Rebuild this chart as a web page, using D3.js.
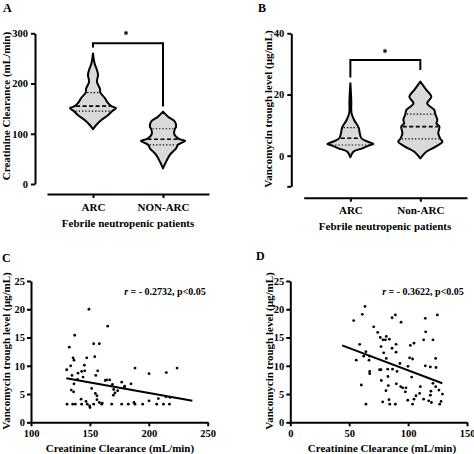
<!DOCTYPE html>
<html><head><meta charset="utf-8">
<script src="https://cdn.jsdelivr.net/npm/d3@7"></script>
<style>
html,body{margin:0;padding:0;background:#fff;}
svg text{font-family:"Liberation Serif","Times New Roman",serif;font-weight:bold;fill:#000;}
</style></head>
<body>
<svg id="chart" width="474" height="454"></svg>
<script>
// ---------- DATA ----------
const groupsA = ["ARC", "NON-ARC"];
const groupsB = ["ARC", "Non-ARC"];
const ticksA = [0, 100, 200, 300];
const ticksB = [-10, 0, 20, 40];
const ticksCx = [100, 150, 200, 250];
const ticksDx = [0, 50, 100, 150];
const ticksScatterY = [0, 5, 10, 15, 20, 25];

// Violin profiles (level, relative density)
const vA_arc_levels = [109,117,127,137,145,151,155,163,171,182,190,204,217,227,240,260];
const vA_arc_dens   = [0,0.13,0.35,0.65,0.83,1.0,0.8,0.62,0.52,0.32,0.3,0.17,0.22,0.17,0.07,0];
const vA_arc_quart  = [145,155,182];
const vA_non_levels = [31,44,58,71,78,86,89,94,101,110,114,124,134,144];
const vA_non_dens   = [0,0.13,0.3,0.57,0.65,0.96,0.74,0.57,0.48,0.52,0.57,0.52,0.22,0];
const vA_non_quart  = [78,89,110];

const vB_arc_levels = [-0.5,1.3,2.4,3.5,3.8,4.9,5.7,7.3,9.2,11.6,13.9,18,23.7];
const vB_arc_dens   = [0,0.13,0.52,0.87,1.0,0.65,0.48,0.41,0.36,0.17,0.05,0.04,0];
const vB_arc_quart  = [3.5,5.7,9.2];
const vB_non_levels = [-0.9,1.3,2.9,4.6,5.5,7.3,9.5,10.6,11.7,13.6,14.9,17.1,19.3,21.5,24.2];
const vB_non_dens   = [0,0.26,0.65,0.96,0.87,0.78,0.83,0.7,0.74,0.65,0.61,0.3,0.48,0.26,0];
const vB_non_quart  = [5.5,9.5,13.6];

// Scatter C: creatinine clearance (x) vs vancomycin trough (y)
const cX = [149.2,165.1,137.1,132.5,153.2,158.0,135.7,136.5,147.3,154.1,130.3,133.7,145.3,139.9,143.0,145.6,156.6,144.2,155.0,134.8,136.5,164.2,166.8,163.0,169.1,177.0,184.9,179.5,179.2,170.2,173.6,171.3,169.9,134.2,136.2,154.6,156.0,151.5,156.0,158.0,142.5,146.7,149.8,150.1,130.6,135.4,137.6,143.0,147.8,153.2,160.0,168.5,177.0,182.6,188.3,194.8,206.7,212.4,217.5,188.3,200.2,214.9,224.0,200.2,208.1,214.6,218.0,187.4,139.5,160.5];
const cY = [20.0,17.0,15.4,13.3,13.9,13.9,11.4,11.0,11.4,11.6,9.3,10.0,10.1,8.7,9.0,9.1,9.1,8.0,8.3,8.3,6.8,7.5,7.5,7.4,6.7,7.1,6.8,6.4,6.1,5.8,5.6,5.2,4.8,5.7,5.4,5.1,4.7,6.0,4.0,3.5,4.1,3.7,2.9,2.6,3.2,3.2,3.2,3.2,3.2,3.2,3.2,3.2,3.2,3.2,3.2,3.2,3.2,3.2,3.2,9.6,8.6,8.8,9.6,3.8,4.2,4.5,4.4,3.5,7.6,3.4];
const cFit = [[130, 7.8], [237, 3.8]];
const cText = "r = - 0.2732, p<0.05";

// Scatter D
const dX = [63.4,61.1,53.8,94.0,89.2,86.4,114.6,124.8,70.8,74.2,114.9,76.4,81.5,80.7,78.7,84.1,113.2,58.9,77.0,86.4,89.8,101.9,105.0,121.1,64.2,79.3,89.8,62.3,67.4,56.0,66.8,81.5,101.3,103.8,93.1,123.4,99.9,114.6,118.9,123.7,77.0,82.7,86.8,75.8,90.6,67.4,67.4,82.9,103.0,77.3,60.3,83.2,90.0,93.7,95.4,98.2,110.4,121.1,123.4,126.2,97.7,81.2,109.8,119.4,118.9,129.2,106.7,83.8,99.7,105.0,113.2,117.5,119.8,128.0,64.2,78.4,84.4,89.2,103.8,126.8];
const dY = [20.5,19.1,18.0,17.7,19.0,18.5,18.4,19.0,16.9,15.9,16.0,15.0,15.2,14.6,14.6,14.7,14.6,13.8,13.4,13.1,13.8,13.6,14.0,14.6,12.5,12.3,12.4,11.7,11.7,11.0,11.0,11.3,11.4,11.2,10.4,11.3,9.9,10.0,9.8,9.7,9.3,9.4,9.4,9.3,9.0,9.0,8.6,8.1,8.0,7.4,6.6,6.5,6.8,6.3,6.1,6.1,6.3,6.9,6.3,5.7,5.4,5.6,5.1,5.5,4.8,5.0,4.7,4.0,3.9,4.1,4.1,3.8,3.5,3.7,3.2,3.6,3.2,3.2,3.2,3.2];
const dFit = [[44, 13.6], [129, 6.9]];
const dText = "r = - 0.3622, p<0.05";

// ---------- DRAWING ----------
const svg = d3.select("#chart");
const AX = 2;      // axis stroke width
const TICK = 4;

function styleAxis(g, fs) {
  g.selectAll(".domain").attr("stroke", "#000").attr("stroke-width", AX);
  g.selectAll(".tick line").attr("stroke", "#000").attr("stroke-width", AX);
  g.selectAll(".tick text").style("font-size", fs + "px").style("font-family", '"Liberation Serif","Times New Roman",serif').style("font-weight", "bold").attr("fill", "#000");
}

function violin(g, levels, dens, quart, cx, y, wScale) {
  const pts = levels.map((v, i) => ({v, d: dens[i]}));
  const area = d3.area()
    .y(p => y(p.v))
    .x0(p => cx - wScale(p.d))
    .x1(p => cx + wScale(p.d))
    .curve(d3.curveCatmullRom.alpha(0.5));
  g.append("path").datum(pts).attr("d", area)
    .attr("fill", "#d9d9d9").attr("stroke", "#000").attr("stroke-width", 2).attr("stroke-linejoin", "round");
  const interp = v => {
    for (let i = 0; i < levels.length - 1; i++) {
      if (v >= levels[i] && v <= levels[i+1]) {
        const t = (v - levels[i]) / (levels[i+1] - levels[i]);
        return dens[i] + t * (dens[i+1] - dens[i]);
      }
    }
    return 0;
  };
  quart.forEach((q, i) => {
    const w = wScale(interp(q)) - 1.5;
    g.append("line").attr("x1", cx - w).attr("x2", cx + w).attr("y1", y(q)).attr("y2", y(q))
      .attr("stroke", "#000")
      .attr("stroke-width", i === 1 ? 1.6 : 1.2)
      .attr("stroke-dasharray", i === 1 ? "4,2.5" : "1.3,2");
  });
}

function bracket(g, x1, x2, yTop, yL, yR, starX, starY) {
  g.append("path").attr("d", `M${x1},${yL}V${yTop}H${x2}V${yR}`)
    .attr("fill", "none").attr("stroke", "#000").attr("stroke-width", 2);
  g.append("path").attr("d", d3.symbol(d3.symbolAsterisk, 14)())
    .attr("transform", `translate(${starX},${starY})`)
    .attr("fill", "none").attr("stroke", "#000").attr("stroke-width", 1);
}

function label(txt, x, y, fs, anchor, rot) {
  const t = svg.append("text").attr("text-anchor", anchor || "start").style("font-size", fs + "px").text(txt);
  if (rot) t.attr("transform", `translate(${x},${y}) rotate(-90)`);
  else t.attr("x", x).attr("y", y);
  return t;
}

// ---- Panel A ----
{
  const g = svg.append("g");
  const y = d3.scaleLinear().domain([0, 300]).range([184, 33.3]);
  const x = d3.scalePoint().domain(groupsA).range([47, 209]).padding(0.657);
  const w = d3.scaleLinear().domain([0, 1]).range([0, 23]);
  violin(g, vA_arc_levels, vA_arc_dens, vA_arc_quart, x("ARC"), y, w);
  violin(g, vA_non_levels, vA_non_dens, vA_non_quart, x("NON-ARC"), y, w);
  const ya = g.append("g").attr("transform", "translate(35,0)")
    .call(d3.axisLeft(y).tickValues(ticksA).tickSize(TICK).tickSizeOuter(0).tickPadding(3));
  styleAxis(ya, 10.5);
  const xa = g.append("g").attr("transform", "translate(0,194)")
    .call(d3.axisBottom(x).tickSize(4).tickSizeOuter(0).tickPadding(5));
  styleAxis(xa, 11);
  bracket(g, x("ARC"), x("NON-ARC"), 43.3, 47.5, 106.5, 126, 33);
  label("A", 3, 12, 12, "start");
  label("Creatinine Clearance (mL/min)", 10, 106, 11, "middle", true);
  label("Febrile neutropenic patients", 128, 227, 11, "middle");
}

// ---- Panel B ----
{
  const g = svg.append("g");
  const y = d3.scaleLinear().domain([-10, 40]).range([186.3, 33.3]);
  const x = d3.scalePoint().domain(groupsB).range([303.7, 467]).padding(0.667);
  const w = d3.scaleLinear().domain([0, 1]).range([0, 23]);
  violin(g, vB_arc_levels, vB_arc_dens, vB_arc_quart, x("ARC"), y, w);
  violin(g, vB_non_levels, vB_non_dens, vB_non_quart, x("Non-ARC"), y, w);
  const ya = g.append("g").attr("transform", "translate(291.3,0)")
    .call(d3.axisLeft(y).tickValues(ticksB).tickSize(TICK).tickSizeOuter(0).tickPadding(3)
      .tickFormat(d => d === -10 ? "" : d));
  styleAxis(ya, 10.5);
  const xa = g.append("g").attr("transform", "translate(0,197.7)")
    .call(d3.axisBottom(x).tickSize(4).tickSizeOuter(0).tickPadding(5));
  styleAxis(xa, 11);
  bracket(g, x("ARC"), x("Non-ARC"), 60, 77.5, 70, 385, 51);
  label("B", 258, 12, 12, "start");
  label("Vancomycin trough level (µg/mL)", 272, 109, 11, "middle", true);
  label("Febrile neutropenic patients", 385, 230, 11, "middle");
}

// ---- Scatter panels ----
function scatter(xs, ys, fit, txt, xDom, xRange, xTicks, letter, letterPos, yTitleX, xTitleX, textX) {
  const g = svg.append("g");
  const x = d3.scaleLinear().domain(xDom).range(xRange);
  const y = d3.scaleLinear().domain([0, 25]).range([422.3, 281]);
  g.selectAll("circle").data(xs.map((v, i) => [v, ys[i]])).join("circle")
    .attr("cx", d => x(d[0])).attr("cy", d => y(d[1])).attr("r", 1.4).attr("fill", "#000");
  g.append("line").attr("x1", x(fit[0][0])).attr("y1", y(fit[0][1]))
    .attr("x2", x(fit[1][0])).attr("y2", y(fit[1][1]))
    .attr("stroke", "#000").attr("stroke-width", 2);
  const ya = g.append("g").attr("transform", `translate(${xRange[0]},0)`)
    .call(d3.axisLeft(y).tickValues(ticksScatterY).tickSize(TICK).tickSizeOuter(0).tickPadding(2));
  styleAxis(ya, 10.5);
  const xa = g.append("g").attr("transform", "translate(0,422.3)")
    .call(d3.axisBottom(x).tickValues(xTicks).tickSize(TICK).tickSizeOuter(0).tickPadding(3));
  styleAxis(xa, 10.5);
  label(letter, letterPos[0], letterPos[1], 12, "start");
  label("Vancomycin trough level (µg/mL)", yTitleX, 351, 11, "middle", true);
  label("Creatinine Clearance (mL/min)", xTitleX, 452, 11, "middle");
  const t = svg.append("text").attr("x", textX).attr("y", 295).attr("text-anchor", "middle").style("font-size", "10px");
  t.append("tspan").style("font-style", "italic").text(txt.slice(0, 1));
  t.append("tspan").text(txt.slice(1));
}
scatter(cX, cY, cFit, cText, [100, 250], [31, 207.7], ticksCx, "C", [2, 262], 10, 120, 165);
scatter(dX, dY, dFit, dText, [0, 150], [290.3, 467], ticksDx, "D", [256, 260], 273, 382, 423);
</script>
</body></html>
